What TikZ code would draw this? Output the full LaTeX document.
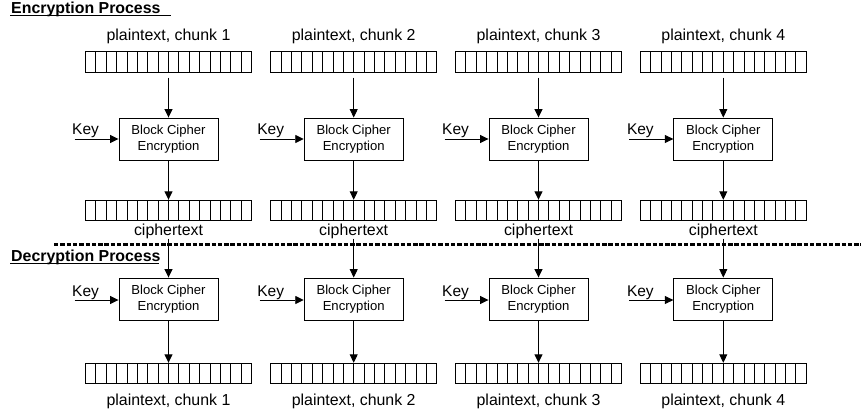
\documentclass[tikz,border=0pt]{standalone}
\usepackage{fontspec}
\setmainfont{Liberation Sans}
\usetikzlibrary{arrows.meta}
\begin{document}
\begin{tikzpicture}[x=1pt,y=-1pt,
  lbl/.style={inner sep=0pt, font=\fontsize{15.9pt}{19pt}\selectfont},
  keylbl/.style={inner sep=0pt, anchor=base west, font=\fontsize{15.5pt}{18pt}\selectfont},
  ttl/.style={inner sep=0pt, anchor=base west, font=\fontsize{15.9pt}{19pt}\selectfont\bfseries},
  cell/.style={draw, line width=0.9pt, minimum width=166pt, minimum height=20.5pt, inner sep=0pt,
    path picture={\foreach \i in {1,...,15}{\draw[line width=0.9pt]
      ([xshift=\i*10.375pt]path picture bounding box.south west) --
      ([xshift=\i*10.375pt]path picture bounding box.north west);}}},
  cipherbox/.style={draw, line width=0.9pt, minimum width=99pt, minimum height=42pt, inner sep=0pt,
    align=center, font=\fontsize{13.1pt}{16.5pt}\selectfont},
  arr/.style={line width=0.9pt, -{Triangle[length=8.5pt,width=8pt]}},
  sep/.style={line width=3.2pt, dash pattern=on 4.4pt off 1.9pt}
]
\useasboundingbox (0,0) rectangle (861,414);

\node[ttl] (enctitle) at (11,13.5) {Encryption Process};
\draw[line width=1.3pt] (10,15.8) -- (171,15.8);
\node[ttl] (dectitle) at (11,261) {Decryption Process};
\draw[line width=1.3pt] (10,263.5) -- (159,263.5);

\coordinate (sepL) at (54,244.5);
\coordinate (sepR) at (861,244.5);
\draw[sep] (sepL) -- (sepR);

\foreach \n/\cx in {1/168.5, 2/353.7, 3/538.5, 4/723.3} {
  % encryption
  \node[lbl, anchor=base] (pt\n) at (\cx,41) {plaintext, chunk \n};
  \node[cell] (ptbar\n) at (\cx,62) {};
  \node[cipherbox] (ebox\n) at (\cx,139) {Block Cipher\\Encryption};
  \node[keylbl] (ekey\n) at (\cx-96.5,134.5) {Key};
  \coordinate (ekeyS\n) at (\cx-94,139);
  \node[cell] (cbar\n) at (\cx,210.5) {};
  \node[lbl, anchor=base] (ct\n) at (\cx,235) {ciphertext};
  \draw[arr, shorten <=5pt] (ptbar\n.south) -- (ebox\n.north);
  \draw[arr] (ekeyS\n) -- (ebox\n.west);
  \draw[arr] (ebox\n.south) -- (cbar\n.north);
  % decryption
  \node[cipherbox] (dbox\n) at (\cx,299) {Block Cipher\\Encryption};
  \node[keylbl] (dkey\n) at (\cx-96.5,296.5) {Key};
  \coordinate (dkeyS\n) at (\cx-94,300);
  \node[cell] (dbar\n) at (\cx,373.5) {};
  \node[lbl, anchor=base] (dpt\n) at (\cx,405) {plaintext, chunk \n};
  \draw[arr] (ct\n.south) -- (dbox\n.north);
  \draw[arr] (dkeyS\n) -- (dkeyS\n -| dbox\n.west);
  \draw[arr] (dbox\n.south) -- (dbar\n.north);
}
\end{tikzpicture}
\end{document}
